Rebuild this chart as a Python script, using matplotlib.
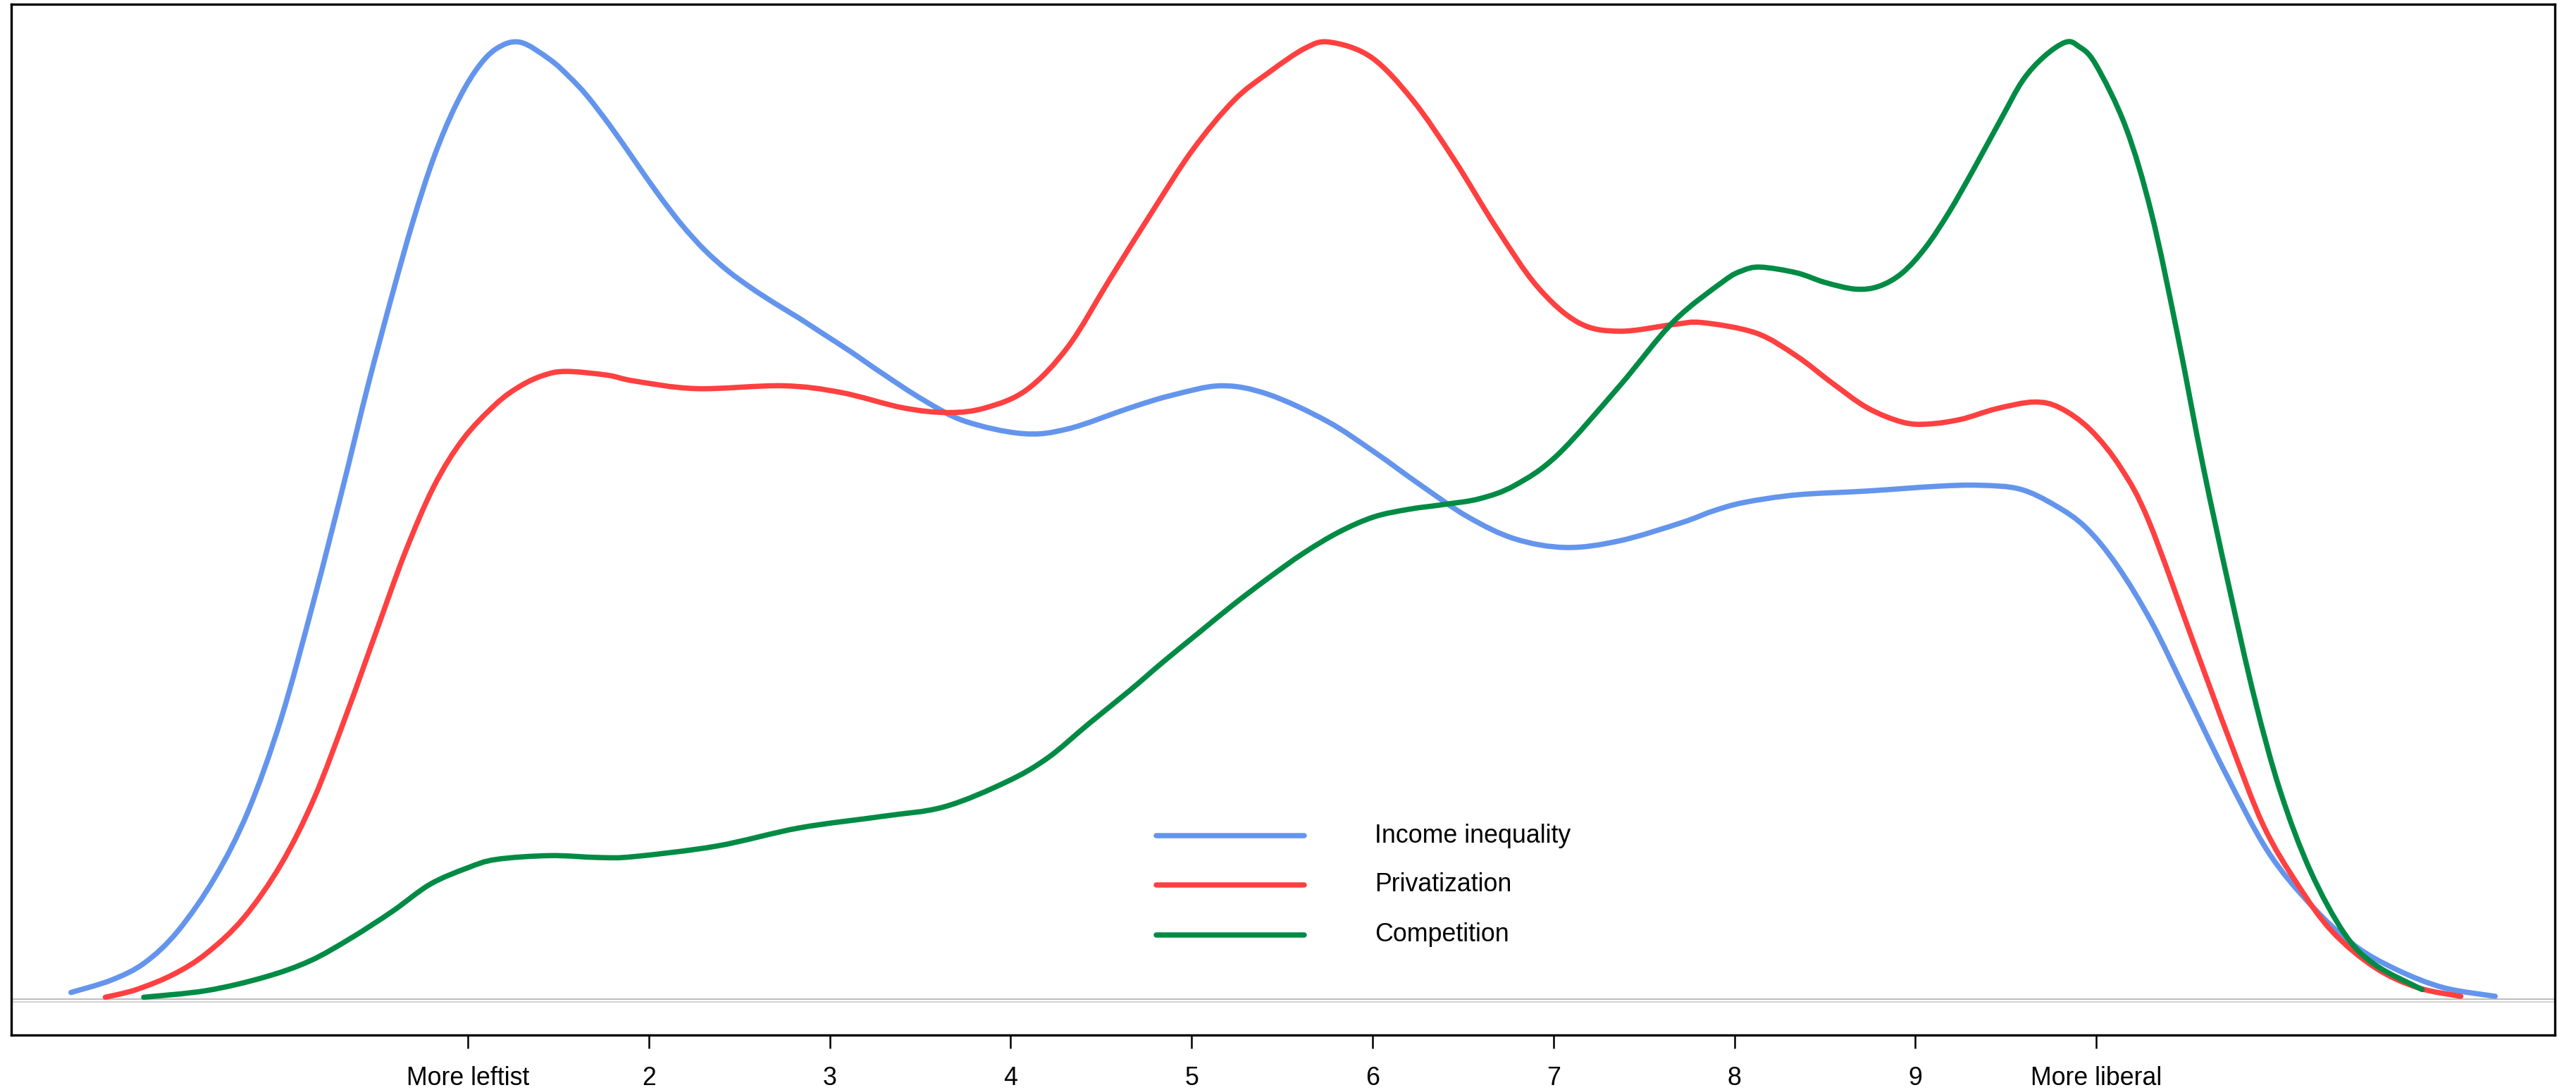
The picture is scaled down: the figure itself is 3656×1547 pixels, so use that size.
import matplotlib
matplotlib.use("Agg")
import matplotlib.pyplot as plt
from matplotlib.path import Path
from matplotlib.patches import PathPatch

plt.rcParams["font.family"] = ["Liberation Sans", "DejaVu Sans"]

# scaled densities (peak = 1)
inequality_x = [-1.193, -0.969, -0.786, -0.603, -0.398, -0.215, -0.032, 0.151, 0.311, 0.448,
                0.585, 0.699, 0.813, 0.928, 1.042, 1.156, 1.289, 1.453, 1.560, 1.659,
                1.789, 1.919, 2.049, 2.179, 2.308, 2.438, 2.568, 2.698, 2.828, 2.958,
                3.113, 3.290, 3.519, 3.747, 4.067, 4.318, 4.661, 4.890, 5.164, 5.424,
                5.748, 6.008, 6.267, 6.527, 6.787, 7.069, 7.366, 7.709, 7.880, 8.052, 8.344,
                8.734, 9.123, 9.357, 9.578, 9.772, 9.941, 10.115, 10.305, 10.495, 10.709,
                10.946, 11.183, 11.421, 11.658, 11.919, 12.204]
inequality_y = [0.007, 0.020, 0.038, 0.071, 0.127, 0.196, 0.293, 0.418, 0.536, 0.641,
                0.738, 0.814, 0.880, 0.932, 0.970, 0.993, 1.000, 0.982, 0.964, 0.944,
                0.912, 0.877, 0.842, 0.810, 0.783, 0.761, 0.743, 0.727, 0.712, 0.696,
                0.677, 0.654, 0.626, 0.604, 0.591, 0.596, 0.618, 0.631, 0.641, 0.632,
                0.604, 0.572, 0.537, 0.504, 0.481, 0.472, 0.479, 0.498, 0.510, 0.519, 0.527,
                0.531, 0.536, 0.537, 0.533, 0.516, 0.493, 0.453, 0.394, 0.321, 0.238,
                0.155, 0.099, 0.057, 0.031, 0.012, 0.003]

privat_x = [-1.003, -0.832, -0.626, -0.443, -0.238, -0.032, 0.151, 0.334, 0.494, 0.654,
            0.813, 0.973, 1.156, 1.293, 1.420, 1.545, 1.773, 1.919, 2.262, 2.742, 3.062,
            3.404, 3.656, 3.862, 4.090, 4.318, 4.547, 4.776, 5.004, 5.233, 5.424,
            5.630, 5.767, 5.995, 6.224, 6.452, 6.681, 6.909, 7.138, 7.366, 7.663,
            7.823, 8.121, 8.344, 8.539, 8.734, 8.928, 9.071, 9.253, 9.448, 9.655,
            9.798, 9.967, 10.136, 10.291, 10.542, 10.732, 10.922, 11.112, 11.302, 11.540,
            11.777, 12.014]
privat_y = [0.002, 0.010, 0.026, 0.048, 0.085, 0.141, 0.210, 0.300, 0.384, 0.467,
            0.536, 0.585, 0.622, 0.641, 0.652, 0.656, 0.652, 0.646, 0.638, 0.641, 0.634,
            0.618, 0.613, 0.618, 0.637, 0.682, 0.752, 0.821, 0.887, 0.939, 0.968,
            0.994, 1.000, 0.984, 0.939, 0.877, 0.807, 0.745, 0.707, 0.698, 0.705,
            0.707, 0.696, 0.672, 0.644, 0.618, 0.603, 0.601, 0.606, 0.617, 0.624,
            0.618, 0.595, 0.555, 0.499, 0.370, 0.273, 0.182, 0.120, 0.071, 0.033,
            0.012, 0.003]

compet_x = [-0.791, -0.443, -0.123, 0.128, 0.356, 0.585, 0.791, 0.996, 1.156, 1.453,
            1.728, 1.919, 2.376, 2.833, 3.290, 3.633, 3.976, 4.204, 4.433, 4.661,
            4.840, 5.034, 5.229, 5.424, 5.618, 5.813, 6.008, 6.203, 6.397, 6.592,
            6.787, 7.024, 7.366, 7.663, 7.938, 8.040, 8.143, 8.344, 8.500, 8.669, 8.799,
            8.928, 9.058, 9.188, 9.318, 9.474, 9.593, 9.711, 9.830, 9.900, 9.996, 10.163,
            10.305, 10.447, 10.590, 10.732, 10.875, 11.017, 11.183, 11.373, 11.540, 11.801]
compet_y = [0.002, 0.009, 0.023, 0.040, 0.064, 0.092, 0.120, 0.137, 0.146, 0.150,
            0.148, 0.149, 0.160, 0.179, 0.191, 0.201, 0.227, 0.252, 0.288, 0.323,
            0.352, 0.382, 0.412, 0.440, 0.466, 0.488, 0.504, 0.512, 0.517, 0.523,
            0.537, 0.569, 0.641, 0.708, 0.750, 0.761, 0.765, 0.759, 0.749, 0.742, 0.745,
            0.759, 0.786, 0.823, 0.866, 0.920, 0.960, 0.985, 1.000, 0.996, 0.977, 0.911,
            0.821, 0.696, 0.557, 0.432, 0.314, 0.217, 0.134, 0.068, 0.036, 0.010]

labels = ["Income inequality", "Privatization", "Competition"]
colors = ["#6495ED", "#FF4040", "#008B45"]

tick_pos = [1, 2, 3, 4, 5, 6, 7, 8, 9, 10]
tick_labels = ["More leftist", "2", "3", "4", "5", "6", "7", "8", "9", "More liberal"]


def smooth_path(xs, ys):
    # cubic bezier segments through the read points (Catmull-Rom tangents)
    pts = list(zip(xs, ys))
    n = len(pts)
    verts = [pts[0]]
    codes = [Path.MOVETO]
    for i in range(n - 1):
        p0 = pts[max(i - 1, 0)]
        p1 = pts[i]
        p2 = pts[i + 1]
        p3 = pts[min(i + 2, n - 1)]
        c1 = (p1[0] + (p2[0] - p0[0]) / 6, p1[1] + (p2[1] - p0[1]) / 6)
        c2 = (p2[0] - (p3[0] - p1[0]) / 6, p2[1] - (p3[1] - p1[1]) / 6)
        verts += [c1, c2, p2]
        codes += [Path.CURVE4] * 3
    return Path(verts, codes)


fig = plt.figure(figsize=(3656 / 300, 1547 / 300), dpi=300)
ax = fig.add_axes([16 / 3656, 78 / 1547, 3610 / 3656, 1463 / 1547])

# zero lines
ax.axhline(0, color="#BEBEBE", lw=0.5, zorder=1)
ax.axhline(-0.003, color="#D3D3D3", lw=0.5, zorder=1)

series = [(inequality_x, inequality_y), (privat_x, privat_y), (compet_x, compet_y)]
for (xs, ys), c in zip(series, colors):
    ax.add_patch(PathPatch(smooth_path(xs, ys), fill=False, edgecolor=c, lw=1.8,
                           capstyle="round", joinstyle="round", zorder=3))

ax.set_xlim(-1.523, 12.534)
ax.set_ylim(-0.0375, 1.0397)
ax.set_yticks([])
ax.set_xticks(tick_pos)
ax.set_xticklabels(tick_labels, fontsize=8.6)
ax.tick_params(axis="x", direction="out", length=4.6, width=0.6, pad=6)
for s in ax.spines.values():
    s.set_linewidth(0.8)

# legend drawn by hand, no box
leg_y = [0.1934, 0.1456, 0.0971]
for lab, c, yy in zip(labels, colors, leg_y):
    ax.plot([0.4501, 0.5083], [yy, yy], color=c, lw=1.8, solid_capstyle="round",
            transform=ax.transAxes)
    ax.text(0.5360, yy, lab, fontsize=8.6, va="center", ha="left", transform=ax.transAxes)

fig.savefig("out.png", dpi=300)
